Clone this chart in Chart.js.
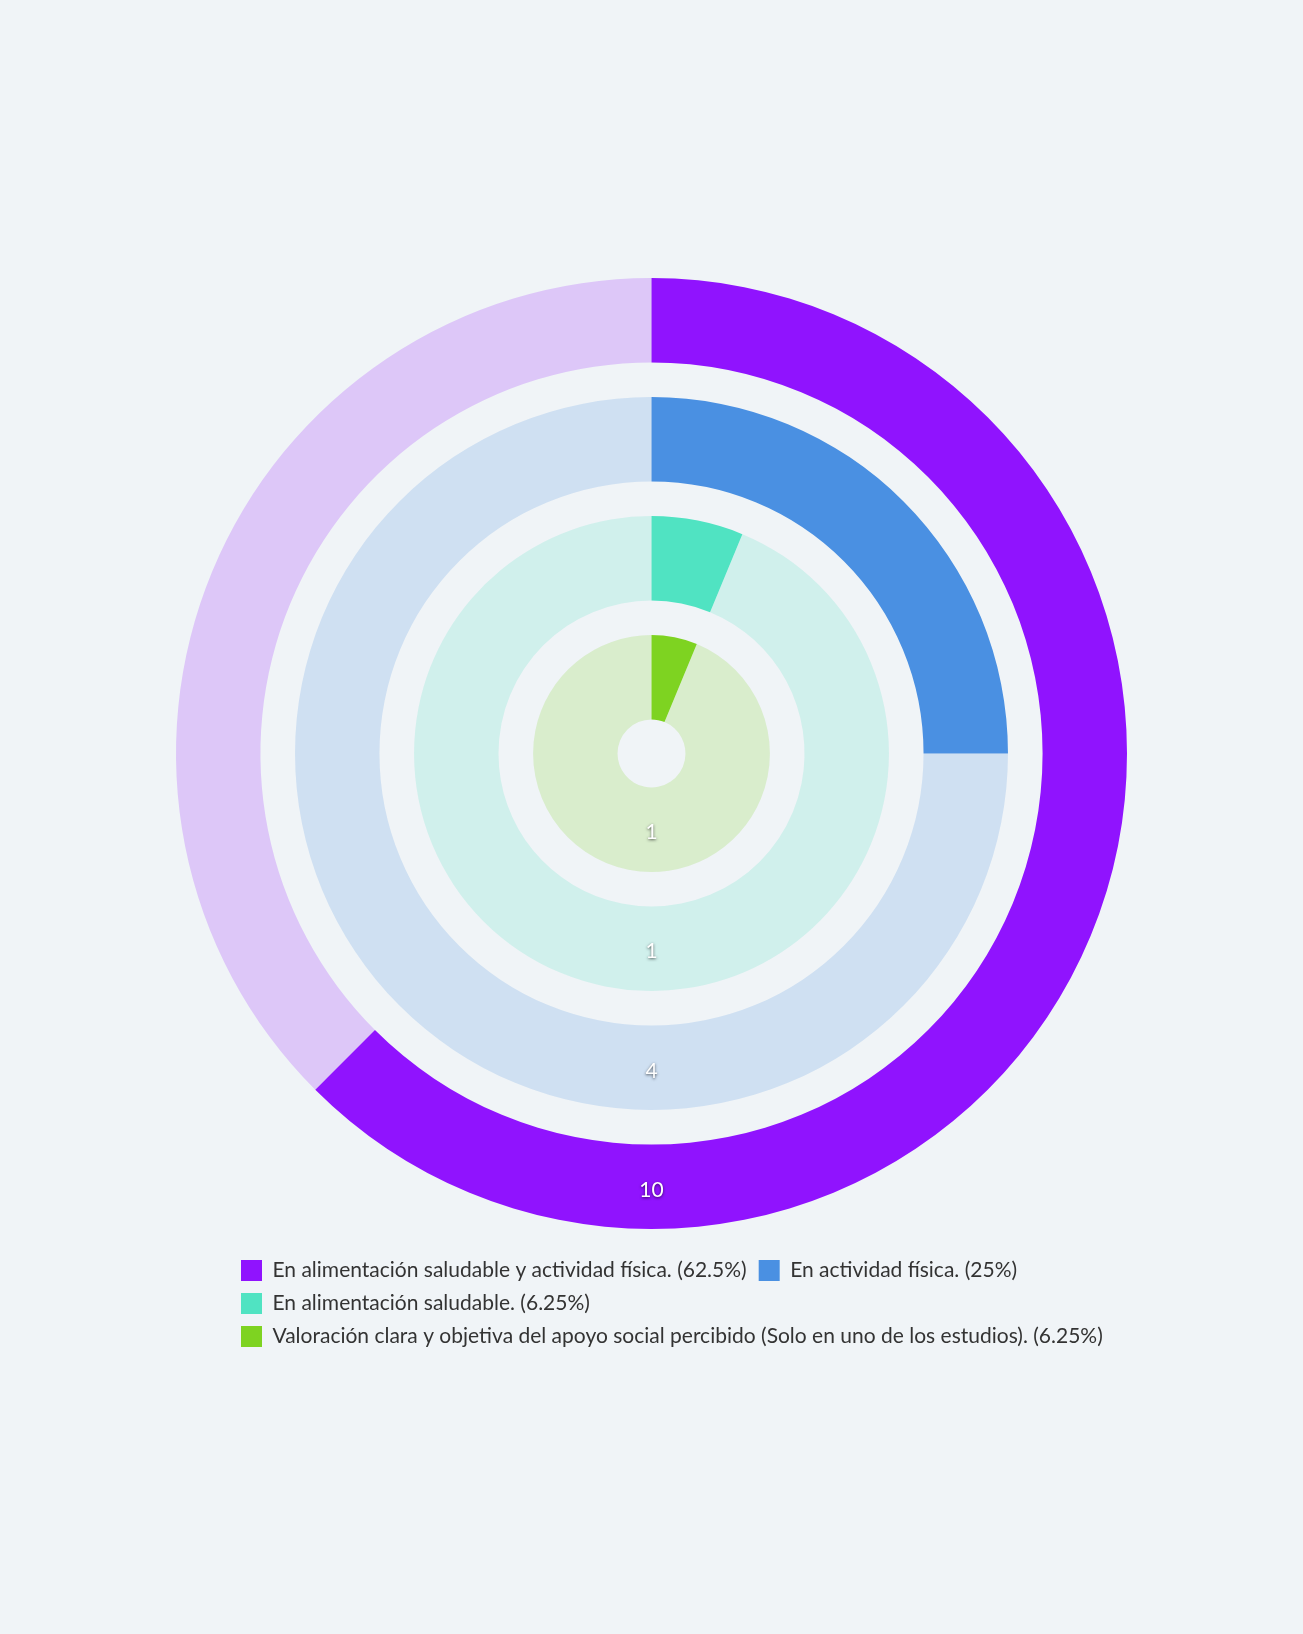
<!DOCTYPE html>
<html lang="es">
<head>
<meta charset="utf-8">
<title>Apoyo social percibido</title>
<script src="https://cdn.jsdelivr.net/npm/chart.js@4/dist/chart.umd.min.js"></script>
<style>
  html, body { margin: 0; padding: 0; background: #f0f4f7; }
  #wrap { position: relative; width: 1303px; height: 1634px; }
</style>
</head>
<body>
<div id="wrap"><canvas id="chart"></canvas></div>
<script>
// Categories and counts, one ring per category (outermost first)
const categories = [
  'En alimentación saludable y actividad física.',
  'En actividad física.',
  'En alimentación saludable.',
  'Valoración clara y objetiva del apoyo social percibido (Solo en uno de los estudios).'
];
const values = [10, 4, 1, 1];
const colors = ['#9013fe', '#4a90e2', '#50e3c2', '#7ed321'];
const trackColors = ['rgba(144,19,254,0.2)', 'rgba(74,144,226,0.2)', 'rgba(80,227,194,0.2)', 'rgba(126,211,33,0.2)'];

const total = values.reduce((a, b) => a + b, 0);
const GAP_WEIGHT = 0.41;

// Build ring datasets with transparent spacer rings between them
const datasets = [];
values.forEach((v, i) => {
  if (i > 0) {
    datasets.push({
      data: [1],
      backgroundColor: ['rgba(0,0,0,0)'],
      borderWidth: 0,
      weight: GAP_WEIGHT,
      spacer: true
    });
  }
  datasets.push({
    label: categories[i],
    data: [v, total - v],
    backgroundColor: [colors[i], trackColors[i]],
    borderWidth: 0,
    weight: 1,
    ringIndex: i
  });
});

// Draws each ring's value at the bottom of the ring
const ringValueLabels = {
  id: 'ringValueLabels',
  afterDatasetsDraw(chart) {
    const ctx = chart.ctx;
    ctx.save();
    ctx.font = '21px Lato, "Noto Sans", sans-serif';
    ctx.textAlign = 'center';
    ctx.textBaseline = 'middle';
    ctx.fillStyle = '#ffffff';
    ctx.shadowColor = 'rgba(0,0,0,0.65)';
    ctx.shadowBlur = 3;
    ctx.shadowOffsetX = 0;
    ctx.shadowOffsetY = 1;
    chart.data.datasets.forEach((ds, di) => {
      if (ds.spacer) return;
      const arc = chart.getDatasetMeta(di).data[0];
      if (!arc) return;
      const r = (arc.innerRadius + arc.outerRadius) / 2;
      ctx.fillText(String(ds.data[0]), arc.x, arc.y + r + 3);
    });
    ctx.restore();
  }
};

new Chart(document.getElementById('chart'), {
  type: 'doughnut',
  data: { labels: ['valor', 'resto'], datasets },
  options: {
    responsive: true,
    maintainAspectRatio: false,
    animation: false,
    events: [],
    radius: 475.5,
    cutout: 30.2,
    layout: { padding: { top: 259, bottom: 277, left: 229, right: 150 } },
    plugins: {
      tooltip: { enabled: false },
      // empty right-hand box keeps the rings centred while the legend stays wide
      title: {
        display: true,
        text: ' ',
        position: 'right',
        fullSize: false,
        font: { size: 10, lineHeight: 1.2 },
        padding: { top: 33.5, bottom: 33.5 }
      },
      legend: {
        position: 'bottom',
        align: 'start',
        labels: {
          boxWidth: 21,
          boxHeight: 21,
          padding: 12,
          color: '#333333',
          font: { family: 'Lato, "Noto Sans", sans-serif', size: 21 },
          generateLabels(chart) {
            return categories.map((c, i) => ({
              text: c + ' (' + (values[i] / total * 100) + '%)',
              fillStyle: colors[i],
              strokeStyle: 'rgba(0,0,0,0)',
              lineWidth: 0,
              fontColor: '#333333',
              hidden: false,
              datasetIndex: i * 2
            }));
          }
        }
      }
    }
  },
  plugins: [ringValueLabels]
});
</script>
</body>
</html>
